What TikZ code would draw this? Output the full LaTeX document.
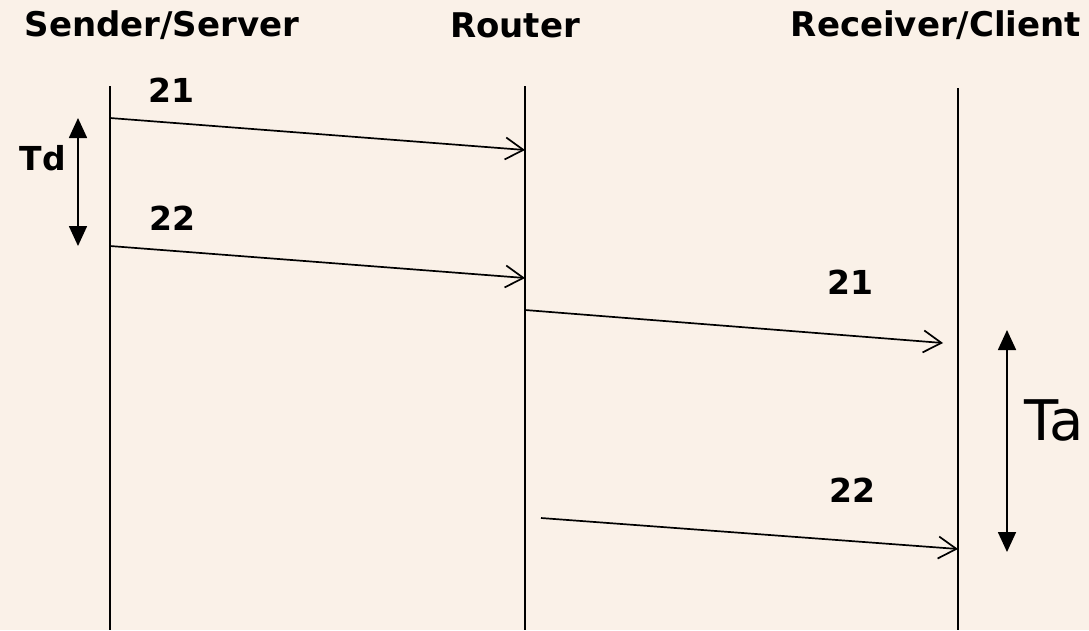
\documentclass[tikz,border=0pt]{standalone}
\usepackage{fontspec}
\setmainfont{DejaVu Sans}
\usetikzlibrary{arrows.meta}
\definecolor{bgc}{HTML}{FAF1E8}
\tikzset{
  lifeline/.style={line width=2pt},
  msg/.style={line width=1.7pt,-{Straight Barb[length=18pt,width=22pt,line width=1.7pt]}},
  interval/.style={line width=1.7pt,{Triangle[length=20pt,width=18pt]}-{Triangle[length=20pt,width=18pt]}},
  hdr/.style={font=\fontsize{34}{40}\selectfont\bfseries,anchor=center,inner sep=0pt},
  lbl/.style={font=\fontsize{33}{40}\selectfont\bfseries,anchor=center,inner sep=0pt},
  biglbl/.style={font=\fontsize{56}{64}\selectfont,anchor=center,inner sep=0pt}
}
\begin{document}
\begin{tikzpicture}[x=1pt,y=-1pt]
\fill[bgc] (0,0) rectangle (1089,630);
\useasboundingbox (0,0) rectangle (1089,630);
% headers
\node[hdr] (hs) at (162,25) {Sender/Server};
\node[hdr] (hr) at (515,25) {Router};
\node[hdr] (hc) at (936,25) {Receiver/Client};
% lifelines
\coordinate (s1) at (110,86);  \coordinate (s2) at (110,630);
\coordinate (r1) at (525,86);  \coordinate (r2) at (525,630);
\coordinate (c1) at (958,88);  \coordinate (c2) at (958,630);
\draw[lifeline] (s1) -- (s2);
\draw[lifeline] (r1) -- (r2);
\draw[lifeline] (c1) -- (c2);
% messages
\coordinate (a1s) at (110,118); \coordinate (a1e) at (525,150);
\coordinate (a2s) at (110,246); \coordinate (a2e) at (525,278);
\coordinate (a3s) at (525,310); \coordinate (a3e) at (943,343);
\coordinate (a4s) at (541,518); \coordinate (a4e) at (958,549);
\draw[msg] (a1s) -- (a1e);
\draw[msg] (a2s) -- (a2e);
\draw[msg] (a3s) -- (a3e);
\draw[msg] (a4s) -- (a4e);
\node[lbl] (l1) at (171,90) {21};
\node[lbl] (l2) at (172,218) {22};
\node[lbl] (l3) at (850,282) {21};
\node[lbl] (l4) at (852,490) {22};
% intervals
\coordinate (td1) at (78,118); \coordinate (td2) at (78,246);
\draw[interval] (td1) -- (td2);
\node[lbl] (td) at (43,158) {Td};
\coordinate (ta1) at (1007,330); \coordinate (ta2) at (1007,552);
\draw[interval] (ta1) -- (ta2);
\node[biglbl] (ta) at (1054,420) {Ta};
\end{tikzpicture}
\end{document}
